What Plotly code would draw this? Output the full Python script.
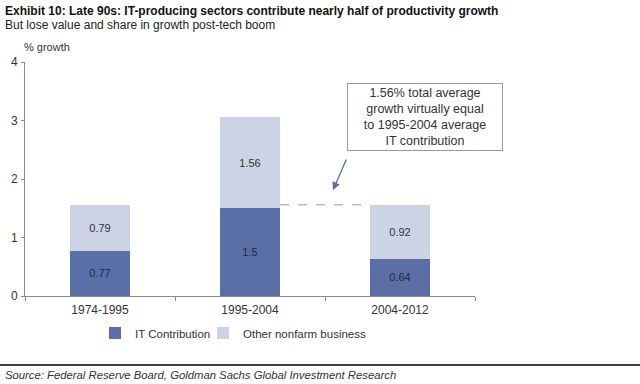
import plotly.graph_objects as go

periods = ["1974-1995", "1995-2004", "2004-2012"]
it_contribution = [0.77, 1.5, 0.64]
other_nonfarm = [0.79, 1.56, 0.92]
y_ticks = [0, 1, 2, 3, 4]
reference_level = 1.56

DARK = "#5a6fa6"
LIGHT = "#cbd3e4"
TXT = "#333333"
FONT = "Liberation Sans, Arial, sans-serif"

fig = go.Figure()
fig.add_trace(go.Bar(
    x=periods, y=it_contribution, name="IT Contribution",
    marker=dict(color=DARK, line=dict(width=0)),
    text=[f"{v:g}" for v in it_contribution], textposition="inside",
    insidetextanchor="middle", textfont=dict(size=11, color="#1f2a44", family=FONT),
    legend="legend",
))
fig.add_trace(go.Bar(
    x=periods, y=other_nonfarm, name="Other nonfarm business",
    marker=dict(color=LIGHT, line=dict(width=0)),
    text=[f"{v:g}" for v in other_nonfarm], textposition="inside",
    insidetextanchor="middle", textfont=dict(size=11, color=TXT, family=FONT),
    legend="legend2",
))

legend_common = dict(orientation="h", xanchor="left", y=(296 - 333) / 234, yanchor="middle",
                     bgcolor="rgba(0,0,0,0)", font=dict(size=11.5, color=TXT), itemwidth=30)

fig.update_layout(
    barmode="stack", bargap=0.6,
    width=640, height=384,
    margin=dict(l=25, r=165, t=62, b=88, autoexpand=False),
    paper_bgcolor="white", plot_bgcolor="white",
    font=dict(family=FONT, color=TXT, size=12),
    showlegend=True,
    legend=dict(x=(95 - 25) / 450, **legend_common),
    legend2=dict(x=(203 - 25) / 450, **legend_common),
    xaxis=dict(showgrid=False, showline=True, linecolor="#8a8a8a", linewidth=1,
               ticks="outside", tickson="boundaries", ticklen=4, tickcolor="#8a8a8a",
               tickfont=dict(size=12, color=TXT), automargin=False, ticklabelstandoff=3),
    yaxis=dict(range=[0, 4], tickvals=y_ticks, showgrid=False, showline=True,
               linecolor="#8a8a8a", linewidth=1, ticks="outside", ticklen=3,
               tickcolor="#8a8a8a", tickfont=dict(size=12, color=TXT), zeroline=False,
               automargin=False, ticklabelstandoff=1),
)

# dashed reference line between bars 2 and 3
fig.add_shape(type="line", xref="x", yref="y", x0=1.2, x1=1.8,
              y0=reference_level, y1=reference_level,
              line=dict(color="#bdbdbd", width=1.5, dash="dash"))

# annotation box
fig.add_annotation(
    xref="paper", yref="paper", x=(424.5 - 25) / 450, y=(296 - 117) / 234,
    text="1.56% total average<br>growth virtually equal<br>to 1995-2004 average<br>IT contribution",
    showarrow=False, font=dict(size=12.5, color=TXT, family=FONT),
    bordercolor="#9a9a9a", borderwidth=1, borderpad=1, bgcolor="white",
    width=152, height=64,
    xanchor="center", yanchor="middle", align="center",
)
# arrow
fig.add_annotation(
    xref="x domain", yref="y domain", x=(333 - 25) / 450, y=(296 - 190) / 234,
    ax=(347 - 25) / 450, ay=(296 - 158) / 234, axref="x domain", ayref="y domain",
    showarrow=True, arrowhead=2, arrowsize=1.2, arrowwidth=1.3, arrowcolor="#5a6fa6",
    text="",
)

# axis title
fig.add_annotation(xref="paper", yref="paper", x=0.0, y=1.0, xanchor="left", yanchor="bottom",
                   text="% growth", showarrow=False, font=dict(size=11, color=TXT),
                   yshift=7, xshift=-3)

# titles
fig.add_annotation(xref="paper", yref="paper", x=-25 / 450, y=(296 - 2) / 234,
                   xanchor="left", yanchor="top", showarrow=False,
                   text="<b>Exhibit 10: Late 90s: IT-producing sectors contribute nearly half of productivity growth</b>",
                   font=dict(size=12, color="#111111", family=FONT), xshift=3)
fig.add_annotation(xref="paper", yref="paper", x=-25 / 450, y=(296 - 16) / 234,
                   xanchor="left", yanchor="top", showarrow=False,
                   text="But lose value and share in growth post-tech boom",
                   font=dict(size=12, color="#222222", family=FONT), xshift=3)

# bottom rule and source
fig.add_shape(type="line", xref="paper", yref="paper", x0=-25 / 450, x1=615 / 450,
              y0=(296 - 365) / 234, y1=(296 - 365) / 234, line=dict(color="black", width=1.5))
fig.add_annotation(xref="paper", yref="paper", x=-25 / 450, y=(296 - 367) / 234,
                   xanchor="left", yanchor="top", showarrow=False,
                   text="<i>Source: Federal Reserve Board, Goldman Sachs Global Investment Research</i>",
                   font=dict(size=11.3, color="#333333", family=FONT), xshift=3)

fig.write_html("out.html", config={"displayModeBar": False},
               post_script="document.body.style.margin='0';")
